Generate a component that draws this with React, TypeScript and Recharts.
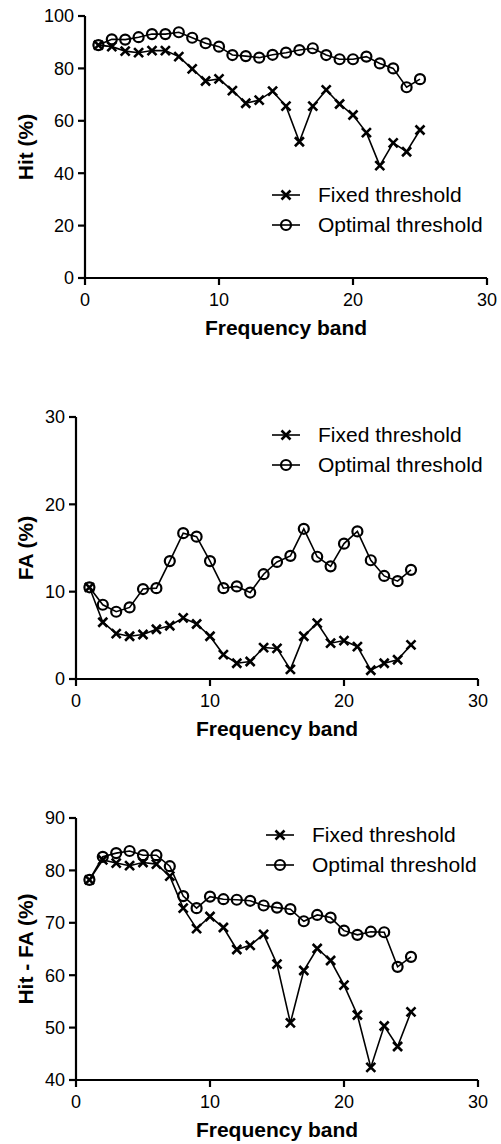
import React from 'react';
import { LineChart, Line, XAxis, YAxis, Legend, Label } from 'recharts';

const FONT = '"Liberation Sans", Arial, Helvetica, sans-serif';

const bands = [1, 2, 3, 4, 5, 6, 7, 8, 9, 10, 11, 12, 13, 14, 15, 16, 17, 18, 19, 20, 21, 22, 23, 24, 25];
const xTicks = [0, 10, 20, 30];

const hitFixed = [88.9, 88.3, 86.6, 86.0, 86.8, 86.8, 84.5, 79.8, 75.2, 76.0, 71.5, 66.7, 67.9, 71.3, 65.6, 52.0, 65.6, 71.8, 66.4, 62.2, 55.5, 42.9, 51.6, 48.2, 56.5];
const hitOptimal = [88.9, 91.1, 91.0, 91.9, 93.1, 93.1, 93.8, 91.7, 89.6, 88.3, 85.1, 84.7, 84.1, 85.2, 86.0, 87.0, 87.7, 85.1, 83.5, 83.5, 84.5, 81.9, 80.0, 72.8, 75.9];

const faFixed = [10.5, 6.5, 5.2, 4.9, 5.1, 5.7, 6.1, 7.0, 6.3, 4.9, 2.8, 1.8, 2.0, 3.6, 3.5, 1.1, 4.9, 6.4, 4.1, 4.4, 3.7, 1.0, 1.8, 2.2, 3.9];
const faOptimal = [10.5, 8.5, 7.7, 8.2, 10.3, 10.4, 13.5, 16.7, 16.3, 13.5, 10.4, 10.6, 9.9, 12.0, 13.4, 14.1, 17.2, 14.0, 12.9, 15.5, 16.9, 13.6, 11.8, 11.2, 12.5];

const diffFixed = [78.2, 82.0, 81.4, 80.9, 81.5, 81.2, 78.9, 72.8, 68.9, 71.2, 69.1, 64.9, 65.7, 67.8, 62.1, 50.9, 60.9, 65.1, 62.8, 58.1, 52.4, 42.4, 50.3, 46.4, 53.0];
const diffOptimal = [78.2, 82.6, 83.3, 83.7, 82.9, 82.9, 80.8, 75.1, 72.8, 75.0, 74.5, 74.4, 74.2, 73.3, 72.9, 72.6, 70.3, 71.5, 71.0, 68.5, 67.7, 68.3, 68.2, 61.6, 63.5];

const hitTicks = [0, 20, 40, 60, 80, 100];
const faTicks = [0, 10, 20, 30];
const diffTicks = [40, 50, 60, 70, 80, 90];

const seriesNames = ['Fixed threshold', 'Optimal threshold'];

function rows(fixed: number[], optimal: number[]) {
  return bands.map((b, i) => ({ band: b, fixed: fixed[i], optimal: optimal[i] }));
}

function XDot(props: any) {
  const { cx, cy, index } = props;
  if (cx == null || cy == null) return null;
  const s = 4.5;
  return (
    <path
      key={`x-${index}`}
      d={`M${cx - s},${cy - s}L${cx + s},${cy + s}M${cx - s},${cy + s}L${cx + s},${cy - s}`}
      stroke="#000"
      strokeWidth={2.6}
      fill="none"
    />
  );
}

function ODot(props: any) {
  const { cx, cy, index } = props;
  if (cx == null || cy == null) return null;
  return <circle key={`o-${index}`} cx={cx} cy={cy} r={5} stroke="#000" strokeWidth={2.2} fill="none" />;
}

function LegendBox() {
  return (
    <div style={{ fontFamily: FONT, fontSize: 21, color: '#000' }}>
      {seriesNames.map((name, i) => (
        <div key={name} style={{ display: 'flex', alignItems: 'center', height: 30 }}>
          <svg width={36} height={30}>
            <line x1={2} x2={30} y1={15} y2={15} stroke="#000" strokeWidth={1.6} />
            {i === 0 ? <XDot cx={16} cy={15} index={0} /> : <ODot cx={16} cy={15} index={0} />}
          </svg>
          <span style={{ marginLeft: 12, whiteSpace: 'nowrap' }}>{name}</span>
        </div>
      ))}
    </div>
  );
}

type PanelProps = {
  data: { band: number; fixed: number; optimal: number }[];
  yDomain: [number, number];
  yTicks: number[];
  yTitle: string;
  axisWidth: number;
  legendTop: number;
  legendLeft: number;
};

function Panel({ data, yDomain, yTicks, yTitle, axisWidth, legendTop, legendLeft }: PanelProps) {
  const tickStyle = { fill: '#000', fontSize: 18, fontFamily: FONT };
  return (
    <LineChart
      width={501}
      height={400}
      data={data}
      margin={{ top: 16, right: 501 - axisWidth - 402, bottom: 62, left: 0 }}
      accessibilityLayer={false}
    >
      <XAxis
        dataKey="band"
        type="number"
        domain={[0, 30]}
        ticks={xTicks}
        tick={tickStyle}
        tickSize={7}
        tickMargin={8}
        stroke="#000"
        strokeWidth={2.2}
        height={60}
      >
        <Label
          value="Frequency band"
          position="insideBottom"
          offset={3}
          style={{ fontFamily: FONT, fontSize: 21, fontWeight: 700, fill: '#000' }}
        />
      </XAxis>
      <YAxis
        type="number"
        domain={yDomain}
        ticks={yTicks}
        tick={tickStyle}
        tickSize={7}
        tickMargin={4}
        stroke="#000"
        strokeWidth={2.2}
        width={axisWidth}
        label={({ viewBox }: any) => {
          const cy = viewBox.y + viewBox.height / 2;
          return (
            <text
              transform={`translate(25,${cy}) rotate(-90)`}
              textAnchor="middle"
              dominantBaseline="central"
              style={{ fontFamily: FONT, fontSize: 21, fontWeight: 700, fill: '#000' }}
            >
              {yTitle}
            </text>
          );
        }}
      />
      {/* vertical + center + middle keeps the legend out of the plot offset */}
      <Legend
        layout="vertical"
        verticalAlign="middle"
        align="center"
        wrapperStyle={{ top: legendTop, left: legendLeft, width: 'auto', height: 'auto' }}
        content={() => <LegendBox />}
      />
      <Line
        dataKey="fixed"
        name={seriesNames[0]}
        stroke="#000"
        strokeWidth={1.6}
        dot={XDot}
        activeDot={false}
        isAnimationActive={false}
      />
      <Line
        dataKey="optimal"
        name={seriesNames[1]}
        stroke="#000"
        strokeWidth={1.6}
        dot={ODot}
        activeDot={false}
        isAnimationActive={false}
      />
    </LineChart>
  );
}

export default function App() {
  return (
    <div style={{ position: 'absolute', left: 0, top: 0, width: 501, height: 1144, background: '#fff' }}>
      <div style={{ position: 'absolute', left: 0, top: 0 }}>
        <Panel
          data={rows(hitFixed, hitOptimal)}
          yDomain={[0, 100]}
          yTicks={hitTicks}
          yTitle="Hit (%)"
          axisWidth={85}
          legendTop={180}
          legendLeft={270}
        />
      </div>
      <div style={{ position: 'absolute', left: 0, top: 401 }}>
        <Panel
          data={rows(faFixed, faOptimal)}
          yDomain={[0, 30]}
          yTicks={faTicks}
          yTitle="FA (%)"
          axisWidth={76}
          legendTop={19}
          legendLeft={270}
        />
      </div>
      <div style={{ position: 'absolute', left: 0, top: 802 }}>
        <Panel
          data={rows(diffFixed, diffOptimal)}
          yDomain={[40, 90]}
          yTicks={diffTicks}
          yTitle="Hit - FA (%)"
          axisWidth={76}
          legendTop={18}
          legendLeft={264}
        />
      </div>
    </div>
  );
}
